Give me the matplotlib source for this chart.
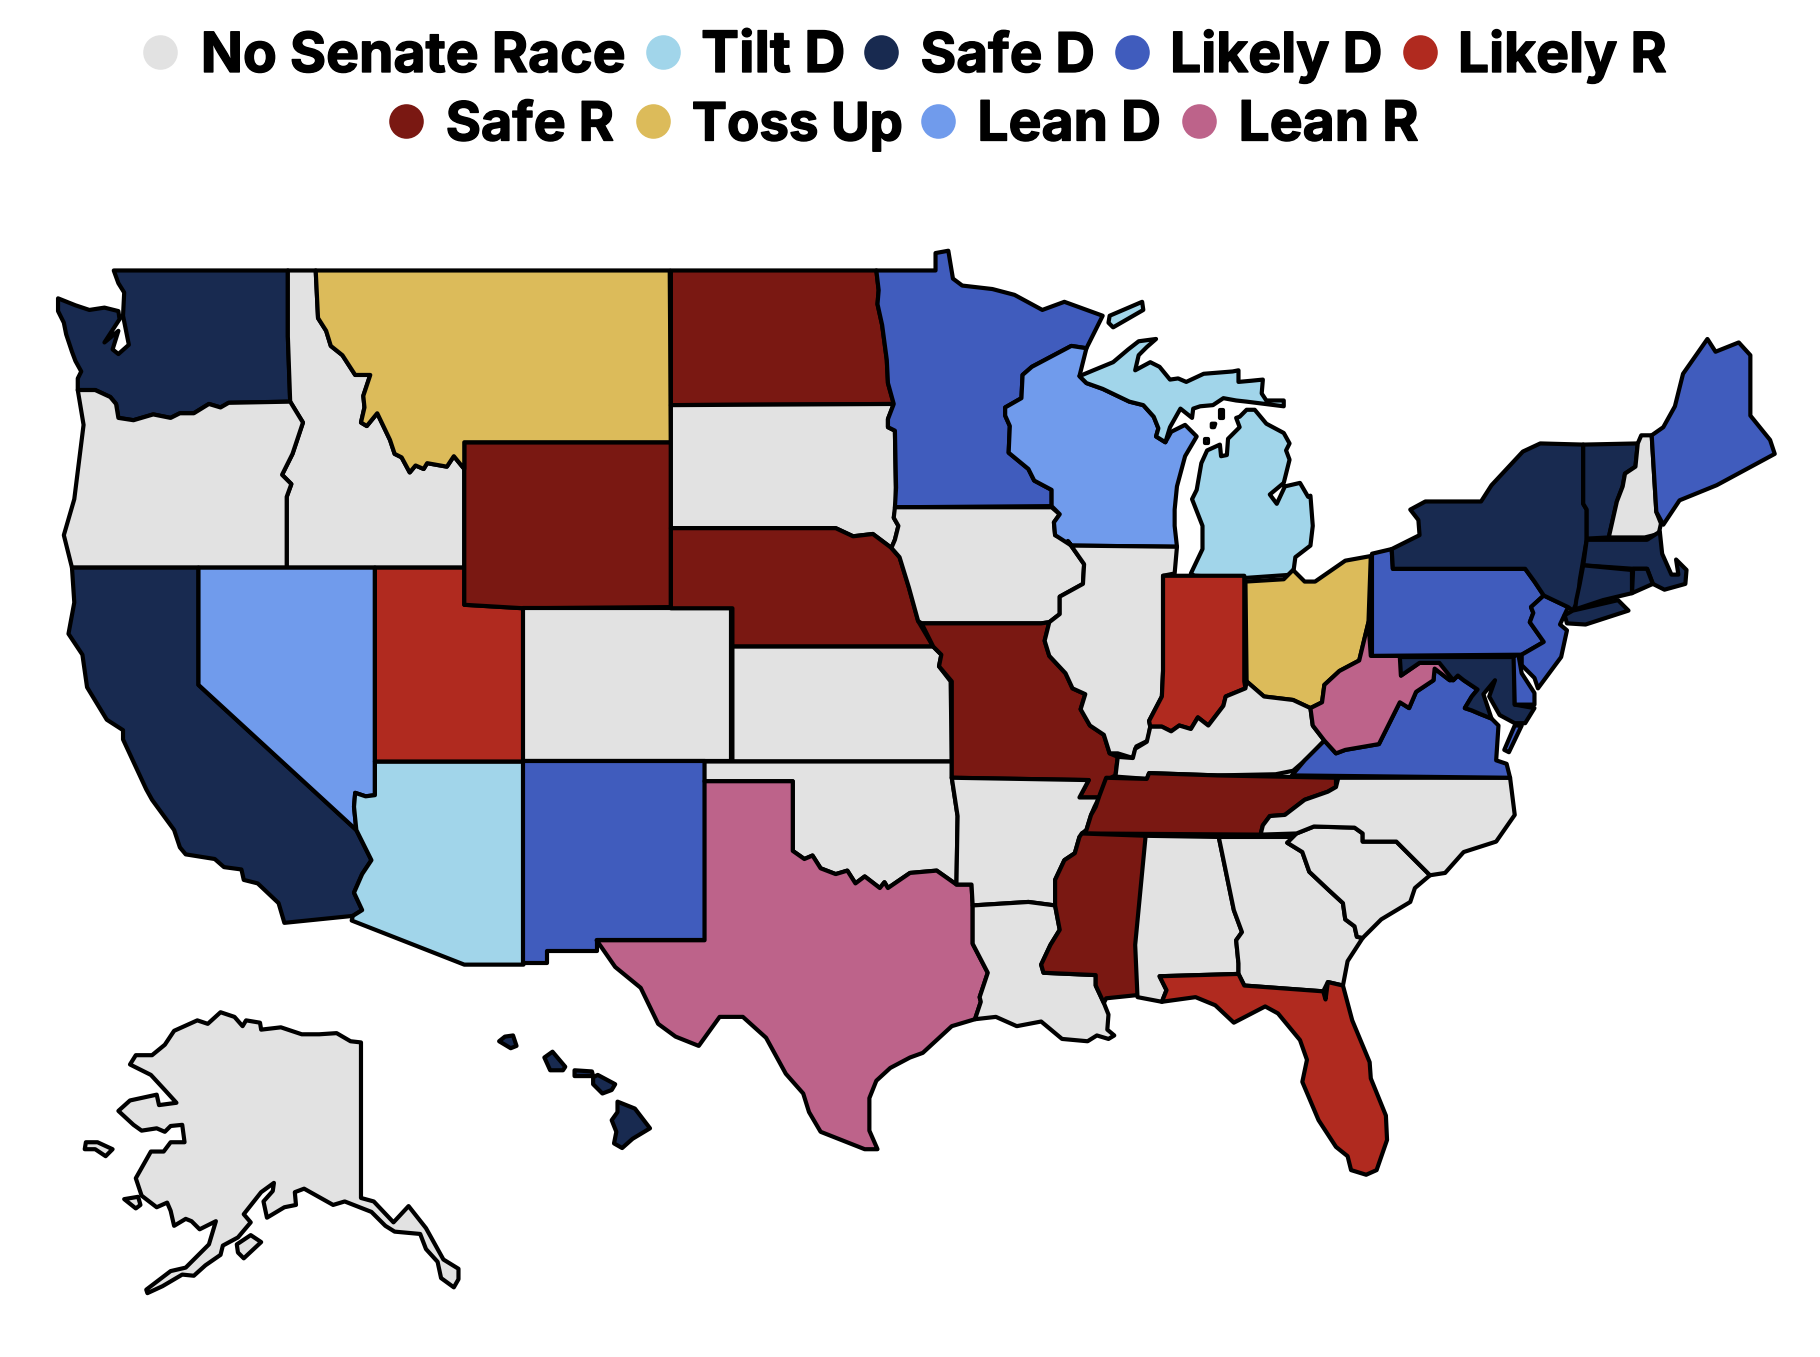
# 2020 senate ratings map
import matplotlib
matplotlib.use('Agg')
import matplotlib.pyplot as plt
import matplotlib.patheffects as pe
from matplotlib.patches import Polygon

# legend, in the order it reads
categories = ['No Senate Race', 'Tilt D', 'Safe D', 'Likely D', 'Likely R',
              'Safe R', 'Toss Up', 'Lean D', 'Lean R']
cat_colors = ['#e2e2e2', '#a1d5ea', '#182a50', '#405cbd', '#b02a1f',
              '#7a1812', '#dcbb5a', '#709bec', '#bd638a']
legend_dot_x = [138, 571, 759, 975, 1223, 350, 563, 808, 1033]
legend_txt_x = [173, 604, 793, 1008, 1256, 384, 596, 842, 1067]
legend_dot_y = [45, 45, 45, 45, 45, 104, 104, 104, 104]
legend_base_y = [62, 62, 62, 62, 62, 121, 121, 121, 121]
legend_size = [39.8, 41, 39.4, 39.8, 39.8, 38.8, 38, 39.8, 39.8]

# state rating
ratings = {
    'WA': 'Safe D', 'OR': 'No Senate Race', 'CA': 'Safe D', 'NV': 'Lean D', 'ID': 'No Senate Race',
    'MT': 'Toss Up', 'WY': 'Safe R', 'UT': 'Likely R', 'AZ': 'Tilt D', 'CO': 'No Senate Race',
    'NM': 'Likely D', 'ND': 'Safe R', 'SD': 'No Senate Race', 'NE': 'Safe R', 'KS': 'No Senate Race',
    'OK': 'No Senate Race', 'TX': 'Lean R', 'MN': 'Likely D', 'IA': 'No Senate Race', 'MO': 'Safe R',
    'AR': 'No Senate Race', 'LA': 'No Senate Race', 'WI': 'Lean D', 'IL': 'No Senate Race', 'MI': 'Tilt D',
    'IN': 'Likely R', 'OH': 'Toss Up', 'KY': 'No Senate Race', 'TN': 'Safe R', 'MS': 'Safe R',
    'AL': 'No Senate Race', 'GA': 'No Senate Race', 'FL': 'Likely R', 'SC': 'No Senate Race',
    'NC': 'No Senate Race', 'VA': 'Likely D', 'WV': 'Lean R', 'PA': 'Likely D', 'NY': 'Safe D',
    'VT': 'Safe D', 'NH': 'No Senate Race', 'ME': 'Likely D', 'MA': 'Safe D', 'RI': 'Safe D',
    'CT': 'Safe D', 'NJ': 'Likely D', 'DE': 'Likely D', 'MD': 'Safe D', 'AK': 'No Senate Race',
    'HI': 'Safe D',
}

# state outlines
WA = [[(98,233),(248,233),(248,290),(250,346),(197,347),(190,351),(180,348),(167,356),(155,356),(147,360),(132,357),(115,362),(102,360),(100,348),(95,342),(82,336),(67,336),(67,326),(70,320),(65,311),(62,303),(57,288),(55,278),(50,268),(50,257),(65,263),(77,267),(90,265),(102,268),(103,275),(90,295),(102,285),(97,301),(102,305),(111,297),(106,272),(107,252),(102,244)]]
ID = [[(248,233),(272,233),(274,274),(281,285),(285,298),(295,306),(306,323),(319,323),(313,341),(314,351),(311,364),(316,367),(325,356),(336,379),(340,391),(346,394),(353,407),(358,401),(365,404),(368,399),(385,402),(391,393),(400,404),(400,489),(247,489),(247,428),(251,417),(243,409),(252,391),(261,364),(250,346),(248,290)]]
OR = [[(67,336),(82,336),(95,342),(100,348),(102,360),(115,362),(132,357),(147,360),(155,356),(167,356),(180,348),(190,351),(197,347),(250,346),(261,364),(252,391),(243,409),(251,417),(247,428),(247,489),(62,489),(55,461),(64,430),(72,366)]]
CA = [[(62,489),(171,489),(171,590),(307,715),(320,741),(312,753),(305,769),(312,784),(304,789),(245,795),(240,778),(222,761),(210,758),(208,749),(193,747),(185,740),(160,736),(155,730),(150,715),(131,689),(126,680),(106,637),(106,629),(92,620),(75,592),(71,564),(59,546),(64,519)]]
NV = [[(171,489),(323,489),(323,685),(315,686),(306,683),(305,695),(307,715),(171,590)]]
AZ = [[(323,656),(451,656),(451,831),(400,831),(303,793),(304,789),(312,784),(305,769),(312,753),(320,741),(307,715),(305,695),(306,683),(315,686),(323,685)]]
UT = [[(323,489),(400,489),(400,521),(451,524),(451,656),(323,656)]]
WY = [[(400,381),(578,381),(578,523),(451,524),(400,521)]]
CO = [[(451,524),(630,524),(630,656),(451,656)]]
NM = [[(451,656),(607,656),(607,810),(514,810),(514,819),(471,819),(471,830),(451,830)]]
MT = [[(272,233),(577,233),(578,381),(400,381),(400,404),(391,393),(385,402),(368,399),(365,404),(358,401),(353,407),(346,394),(340,391),(336,379),(325,356),(316,367),(311,364),(314,351),(313,341),(319,323),(306,323),(295,306),(285,298),(281,285),(274,274)]]
ND = [[(578,233),(755,233),(757,250),(756,262),(760,280),(764,310),(765,330),(770,348),(578,349)]]
SD = [[(578,349),(770,348),(765,361),(765,368),(771,371),(772,437),(770,446),(774,453),(771,465),(768,472),(752,460),(735,462),(720,455),(578,455)]]
NE = [[(578,455),(720,455),(735,462),(752,460),(768,472),(775,480),(783,506),(791,535),(804,557),(631,557),(631,524),(578,524)]]
KS = [[(631,557),(804,557),(811,564),(809,574),(819,587),(820,656),(631,656)]]
OK = [[(607,656),(820,656),(820,670),(825,703),(824,762),(807,750),(784,752),(765,765),(762,760),(758,765),(745,755),(737,761),(730,750),(720,753),(707,748),(700,737),(693,740),(683,733),(683,673),(607,673)]]
TX = [[(607,673),(683,673),(683,733),(693,740),(700,737),(707,748),(720,753),(730,750),(737,761),(745,755),(758,765),(762,760),(765,765),(784,752),(807,750),(824,762),(837,762),(838,780),(838,813),(851,838),(844,859),(845,863),(840,878),(820,884),(795,907),(784,911),(767,920),(755,931),(749,946),(749,974),(756,990),(745,990),(707,975),(697,958),(692,942),(677,925),(660,894),(640,876),(620,876),(602,901),(582,893),(567,882),(552,851),(530,833),(514,810),(607,810)]]
MN = [[(755,233),(806,233),(806,218),(817,216),(821,240),(829,246),(855,249),(874,254),(898,267),(917,260),(950,272),(936,300),(923,298),(889,316),(881,323),(880,343),(866,351),(866,358),(870,367),(869,390),(886,404),(891,414),(906,422),(906,436),(771,437),(772,420),(771,371),(765,368),(765,361),(770,348),(765,330),(764,310),(760,280),(756,262),(757,250)]]
IA = [[(771,437),(906,437),(913,443),(908,450),(909,461),(920,466),(934,486),(933,503),(913,514),(913,529),(904,536),(897,537),(794,537),(791,535),(783,506),(775,480),(768,472),(771,465),(774,453),(770,446)]]
MO = [[(794,537),(897,537),(904,536),(900,552),(904,565),(918,580),(924,593),(935,598),(931,611),(939,625),(951,633),(956,649),(963,652),(961,668),(953,672),(947,687),(930,687),(938,672),(820,670),(820,587),(809,574),(811,564),(804,557)]]
AR = [[(820,670),(938,672),(930,687),(947,687),(943,695),(940,702),(936,715),(930,721),(926,735),(917,741),(909,758),(909,775),(909,780),(886,777),(838,780),(837,762),(824,762),(825,703)]]
LA = [[(838,780),(886,777),(909,780),(913,801),(905,814),(897,831),(899,838),(944,840),(944,849),(951,864),(955,874),(954,887),(960,892),(955,895),(945,892),(937,897),(915,895),(897,880),(876,884),(858,876),(840,878),(845,863),(844,859),(851,838),(838,813)]]
WI = [[(923,298),(936,300),(930,324),(936,330),(950,335),(973,346),(985,349),(994,359),(998,369),(996,376),(1004,381),(1009,372),(1021,366),(1031,376),(1021,393),(1014,419),(1012,439),(1012,453),(1014,471),(923,470),(909,461),(908,450),(913,443),(906,436),(906,422),(891,414),(886,404),(869,390),(870,367),(866,358),(866,351),(880,343),(881,323),(889,316)]]
IL = [[(923,470),(1014,471),(1012,494),(1002,496),(1002,578),(1001,600),(990,621),(991,626),(989,638),(979,643),(976,653),(963,649),(956,649),(951,633),(939,625),(931,611),(935,598),(924,593),(918,580),(904,565),(900,552),(904,536),(913,529),(913,514),(933,503),(934,486),(920,466)]]
MI = [[(930,324),(942,319),(959,312),(972,301),(981,294),(996,292),(988,299),(981,306),(978,319),(991,312),(999,316),(1008,327),(1015,326),(1022,329),(1037,322),(1062,320),(1067,319),(1067,329),(1078,328),(1088,327),(1087,339),(1091,345),(1106,345),(1106,350),(1074,346),(1065,345),(1054,343),(1045,349),(1034,350),(1028,352),(1027,360),(1017,352),(1008,368),(1004,381),(996,376),(998,369),(994,359),(985,349),(973,346),(950,335),(936,330)],
      [(1068,359),(1074,353),(1081,353),(1091,365),(1106,373),(1111,382),(1108,388),(1111,396),(1108,408),(1106,416),(1100,421),(1094,426),(1100,434),(1107,419),(1120,416),(1127,428),(1129,427),(1131,453),(1129,470),(1116,480),(1114,495),(1071,498),(1029,496),(1026,494),(1036,473),(1036,453),(1027,430),(1031,422),(1035,399),(1040,388),(1051,383),(1052,393),(1057,392),(1058,378),(1068,368),(1065,360)],
      [(1051,353),(1054,353),(1054,360),(1051,360)],
      [(1044,365),(1047,365),(1046,368),(1044,368)],
      [(1038,378),(1041,378),(1041,382),(1038,382)],
      [(956,272),(984,260),(985,267),(959,282),(955,278)]]
IN = [[(1002,496),(1072,496),(1072,587),(1073,593),(1056,600),(1054,608),(1041,625),(1032,618),(1026,628),(1016,625),(1009,630),(1001,626),(991,626),(990,621),(1001,600),(1002,578)]]
OH = [[(1073,501),(1106,499),(1114,491),(1124,501),(1133,501),(1159,483),(1181,479),(1179,536),(1171,569),(1154,578),(1141,590),(1139,605),(1129,610),(1114,603),(1089,600),(1074,587)]]
KY = [[(963,652),(976,653),(978,645),(988,639),(991,626),(1001,626),(1009,630),(1016,625),(1026,628),(1032,618),(1041,625),(1054,608),(1056,600),(1073,593),(1074,587),(1089,600),(1114,603),(1129,610),(1131,625),(1141,638),(1129,651),(1114,664),(1099,667),(1049,668),(990,666),(988,671),(961,669)]]
TN = [[(953,670),(988,671),(990,666),(1049,668),(1151,670),(1151,678),(1144,682),(1124,689),(1107,702),(1094,703),(1088,711),(1086,719),(932,718),(936,715),(940,702),(944,695),(947,686)]]
MS = [[(932,718),(988,720),(980,814),(982,857),(953,860),(951,864),(944,849),(944,840),(899,838),(897,831),(905,814),(913,801),(909,780),(909,758),(917,741),(926,735),(930,721)]]
AL = [[(987,720),(1050,721),(1063,784),(1070,803),(1065,810),(1067,830),(1067,839),(999,841),(1005,853),(1001,863),(980,859),(978,814)]]
GA = [[(1050,721),(1117,721),(1109,726),(1122,734),(1128,751),(1145,767),(1157,778),(1159,792),(1167,798),(1169,807),(1174,808),(1161,828),(1157,849),(1144,846),(1140,854),(1072,849),(1067,839),(1067,830),(1065,810),(1070,803),(1063,784)]]
FL = [[(999,841),(1067,839),(1072,849),(1140,854),(1142,861),(1144,846),(1157,849),(1165,879),(1180,915),(1181,929),(1194,961),(1195,982),(1186,1008),(1177,1012),(1164,1008),(1161,996),(1151,988),(1136,965),(1122,932),(1126,913),(1120,896),(1101,873),(1090,867),(1063,881),(1047,866),(1030,859),(1001,863),(1005,853)]]
SC = [[(1109,726),(1117,718),(1132,712),(1167,713),(1174,718),(1174,725),(1203,725),(1232,754),(1219,765),(1215,777),(1190,792),(1174,808),(1169,807),(1167,798),(1159,792),(1157,778),(1145,767),(1128,751),(1122,734)]]
NC = [[(1153,670),(1301,670),(1305,702),(1289,725),(1261,734),(1245,752),(1232,754),(1203,725),(1174,725),(1174,718),(1167,713),(1132,712),(1117,718),(1086,719),(1088,711),(1094,703),(1107,702),(1124,689),(1144,682),(1151,678)]]
VA = [[(1113,668),(1124,655),(1141,638),(1151,649),(1159,646),(1188,641),(1196,625),(1206,605),(1214,610),(1220,596),(1235,586),(1236,576),(1249,586),(1252,586),(1256,582),(1261,586),(1273,594),(1268,600),(1262,610),(1268,612),(1275,615),(1285,619),(1291,625),(1289,655),(1298,658),(1301,670)],
      [(1305,625),(1311,625),(1300,648),(1296,646)]]
WV = [[(1207,582),(1223,571),(1240,571),(1252,582),(1249,586),(1236,576),(1235,586),(1220,596),(1214,610),(1206,605),(1196,625),(1188,641),(1159,646),(1151,649),(1141,638),(1131,625),(1129,610),(1139,605),(1141,590),(1154,578),(1171,569),(1179,536),(1181,565),(1207,565)]]
MD = [[(1206,566),(1305,566),(1305,607),(1322,610),(1314,623),(1305,623),(1292,616),(1283,600),(1288,586),(1278,598),(1285,619),(1275,615),(1268,612),(1262,610),(1268,600),(1273,594),(1261,586),(1256,582),(1252,586),(1240,571),(1223,571),(1207,582)]]
DE = [[(1304,566),(1308,563),(1311,580),(1322,597),(1322,607),(1305,607)]]
PA = [[(1182,477),(1199,473),(1200,490),(1314,490),(1322,501),(1330,513),(1319,523),(1321,528),(1318,536),(1330,553),(1311,564),(1182,565)]]
NJ = [[(1330,513),(1351,523),(1344,538),(1350,543),(1345,566),(1325,593),(1322,584),(1311,573),(1311,564),(1330,553),(1318,536),(1321,528),(1319,523)]]
NY = [[(1199,473),(1223,461),(1222,448),(1215,439),(1228,432),(1276,432),(1285,418),(1312,389),(1327,382),(1364,383),(1364,405),(1364,434),(1367,439),(1367,465),(1361,500),(1360,517),(1355,526),(1351,523),(1330,513),(1322,501),(1314,490),(1200,490)],
      [(1355,526),(1394,517),(1403,526),(1366,538),(1350,537),(1348,530)]]
VT = [[(1364,383),(1411,382),(1409,402),(1400,408),(1398,419),(1393,432),(1386,463),(1367,464),(1367,439),(1364,434),(1364,405)]]
NH = [[(1414,375),(1423,375),(1427,441),(1431,451),(1429,460),(1417,463),(1386,463),(1393,432),(1398,419),(1400,408),(1409,402),(1411,382)]]
ME = [[(1423,375),(1433,368),(1443,350),(1450,322),(1471,292),(1478,303),(1498,295),(1508,306),(1508,358),(1525,379),(1529,391),(1479,418),(1447,431),(1433,452),(1427,441)]]
MA = [[(1367,465),(1419,465),(1430,458),(1432,477),(1440,495),(1446,495),(1444,482),(1453,491),(1452,503),(1434,508),(1424,503),(1419,490),(1407,490),(1364,487)]]
RI = [[(1407,490),(1419,490),(1424,503),(1406,511)]]
CT = [[(1364,487),(1406,491),(1406,511),(1381,517),(1357,525),(1358,517),(1361,503)]]
AK = [[(190,872),(202,876),(209,884),(212,879),(224,881),(225,887),(242,885),(260,891),(275,891),(290,890),(302,897),(311,898),(311,1032),(322,1035),(339,1053),(352,1039),(367,1058),(382,1085),(395,1093),(395,1102),(391,1109),(380,1101),(377,1087),(367,1076),(362,1063),(340,1061),(332,1056),(320,1044),(297,1035),(287,1038),(262,1024),(254,1027),(255,1038),(245,1040),(230,1049),(227,1035),(235,1026),(236,1019),(225,1027),(210,1046),(216,1053),(205,1066),(192,1073),(190,1081),(177,1090),(167,1099),(157,1098),(140,1108),(127,1114),(126,1111),(147,1095),(160,1092),(180,1072),(186,1052),(172,1059),(165,1052),(160,1050),(150,1056),(147,1043),(144,1036),(135,1040),(122,1030),(117,1015),(130,992),(141,992),(147,984),(159,984),(157,969),(147,970),(142,975),(135,972),(122,974),(115,969),(102,957),(112,948),(135,943),(137,952),(152,950),(142,939),(130,926),(112,917),(117,909),(131,909),(142,900),(150,888),(170,879),(179,882)],
      [(74,984),(84,984),(97,990),(91,996),(82,990),(73,990)],
      [(107,1033),(119,1031),(121,1038),(117,1041)],
      [(204,1072),(216,1064),(225,1070),(210,1084),(205,1079)]]
HI = [[(430,897),(435,893),(442,892),(445,901),(440,903)],
      [(469,911),(476,906),(487,919),(485,922),(474,922)],
      [(495,922),(510,923),(511,927),(495,927)],
      [(511,928),(515,926),(530,934),(527,939),(519,942),(511,934)],
      [(532,949),(547,955),(560,972),(545,981),(536,989),(529,985),(531,975),(527,965),(532,958)]]

outlines = {'WA': WA, 'ID': ID, 'OR': OR, 'CA': CA, 'NV': NV, 'AZ': AZ, 'UT': UT, 'WY': WY, 'CO': CO, 'NM': NM,
            'MT': MT, 'ND': ND, 'SD': SD, 'NE': NE, 'KS': KS, 'OK': OK, 'TX': TX, 'MN': MN, 'IA': IA, 'MO': MO,
            'AR': AR, 'LA': LA, 'WI': WI, 'IL': IL, 'MI': MI, 'IN': IN, 'OH': OH, 'KY': KY, 'TN': TN, 'MS': MS,
            'AL': AL, 'GA': GA, 'FL': FL, 'SC': SC, 'NC': NC, 'VA': VA, 'WV': WV, 'MD': MD, 'DE': DE, 'PA': PA,
            'NJ': NJ, 'NY': NY, 'VT': VT, 'NH': NH, 'ME': ME, 'MA': MA, 'RI': RI, 'CT': CT, 'AK': AK, 'HI': HI}

fig = plt.figure(figsize=(18.2, 13.57), dpi=100)
ax = fig.add_axes([0, 0, 1, 1])
ax.set_xlim(0, 1568)
ax.set_ylim(1169, 0)
ax.axis('off')

color_of = dict(zip(categories, cat_colors))

# Draw the states
for state, rings in outlines.items():
    for ring in rings:
        ax.add_patch(Polygon(ring, closed=True, facecolor=color_of[ratings[state]],
                             edgecolor='black', linewidth=3.0, joinstyle='round'))

# Legend
for name, color, dx, tx, dy, by, size in zip(categories, cat_colors, legend_dot_x, legend_txt_x,
                                             legend_dot_y, legend_base_y, legend_size):
    ax.scatter([dx], [dy], s=620, color=color, linewidths=0)
    ax.text(tx, by, name, fontsize=size, fontweight='bold', family=['Inter', 'DejaVu Sans'],
            va='baseline', ha='left', color='black',
            path_effects=[pe.withStroke(linewidth=1.0, foreground='black')])

fig.savefig('out.png', dpi=100)
